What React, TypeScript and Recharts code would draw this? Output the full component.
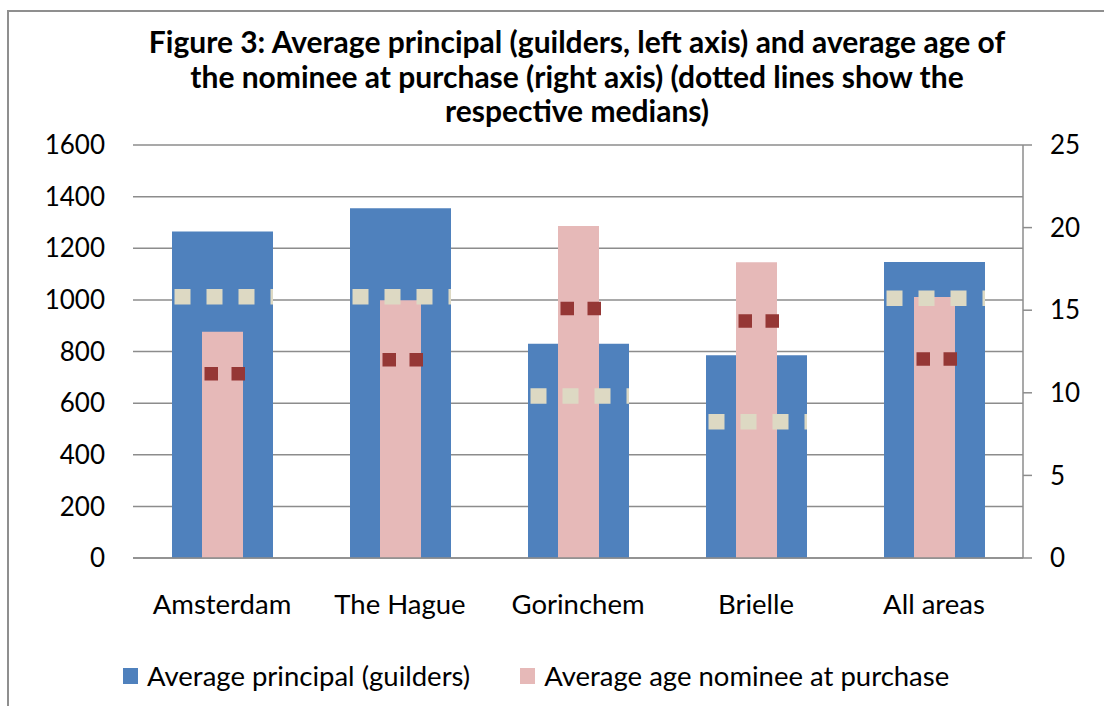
import { ComposedChart, Bar, XAxis, YAxis, CartesianGrid, Legend } from 'recharts';

const categories = ['Amsterdam', 'The Hague', 'Gorinchem', 'Brielle', 'All areas'];
const avgPrincipal = [1265, 1355, 830, 785, 1147];
const avgAge = [13.7, 15.6, 20.1, 17.9, 15.8];
const medianPrincipal = [1012, 1012, 628, 528, 1006];
const medianAge = [11.15, 12.0, 15.1, 14.35, 12.05];
const leftTicks = [0, 200, 400, 600, 800, 1000, 1200, 1400, 1600];
const rightTicks = [0, 5, 10, 15, 20, 25];
const legendOrder = ['avgPrincipal', 'avgAge'];

const data = categories.map((category, i) => ({
  category,
  avgPrincipal: avgPrincipal[i],
  avgAge: avgAge[i],
  medianPrincipal: medianPrincipal[i],
  medianAge: medianAge[i],
}));

const FONT = 'Lato, "Open Sans", sans-serif';
const AXIS_GRAY = '#8c8c8c';

// dotted median line drawn at the top of an otherwise invisible bar
const dashShape = (color: string, thickness: number, dash: string, inset: number, extra: number) =>
  (props: any) => {
    const { x, y, width } = props;
    if (x == null || y == null) return <g />;
    return (
      <line
        x1={x + inset}
        x2={x + width + extra}
        y1={y}
        y2={y}
        stroke={color}
        strokeWidth={thickness}
        strokeDasharray={dash}
      />
    );
  };

const renderLegend = (props: any) => {
  const items = (props.payload || [])
    .filter((p: any) => legendOrder.includes(p.dataKey))
    .sort((a: any, b: any) => legendOrder.indexOf(a.dataKey) - legendOrder.indexOf(b.dataKey));
  return (
    <div style={{ display: 'flex', alignItems: 'center', gap: 50, fontFamily: FONT, fontSize: 27.5, color: '#000' }}>
      {items.map((entry: any) => (
        <div key={entry.value} style={{ display: 'flex', alignItems: 'center' }}>
          <span style={{ display: 'inline-block', width: 15, height: 16, background: entry.color, marginRight: 9 }} />
          <span>{entry.value}</span>
        </div>
      ))}
    </div>
  );
};

export default function App() {
  return (
    <div style={{ position: 'absolute', left: 0, top: 0, width: 1104, height: 706, background: '#fff', overflow: 'hidden' }}>
      <div
        style={{
          position: 'absolute',
          left: 7,
          top: 10,
          width: 1120,
          height: 720,
          borderLeft: '2px solid #8f8f8f',
          borderTop: '2px solid #8f8f8f',
        }}
      />
      <div
        style={{
          position: 'absolute',
          left: 50,
          top: 24,
          width: 1054,
          textAlign: 'center',
          fontFamily: FONT,
          fontWeight: 700,
          fontSize: 30,
          lineHeight: '34.5px',
          color: '#000',
        }}
      >
        Figure 3: Average principal (guilders, left axis) and average age of
        <br />
        the nominee at purchase (right axis) (dotted lines show the
        <br />
        respective medians)
      </div>
      <div style={{ position: 'absolute', left: 0, top: 0 }}>
        <ComposedChart width={1104} height={706} data={data} margin={{ top: 145, right: 0, bottom: 108, left: 33 }}>
          <CartesianGrid yAxisId="left" xAxisId="main" vertical={false} stroke={AXIS_GRAY} strokeWidth={1.5} />
          <XAxis
            xAxisId="main"
            dataKey="category"
            height={40}
            axisLine={{ stroke: AXIS_GRAY, strokeWidth: 1.5 }}
            tickLine={false}
            tickSize={0}
            tickMargin={36}
            tick={{ fill: '#000', fontSize: 27.5, fontFamily: FONT }}
          />
          <XAxis xAxisId="pink" dataKey="category" hide />
          <XAxis xAxisId="medP" dataKey="category" hide />
          <XAxis xAxisId="medA" dataKey="category" hide />
          <YAxis
            yAxisId="left"
            width={100}
            domain={[0, 1600]}
            ticks={leftTicks}
            axisLine={false}
            tickLine={false}
            tickSize={0}
            tickMargin={28}
            tick={{ fill: '#000', fontSize: 26, fontFamily: FONT }}
          />
          <YAxis
            yAxisId="right"
            orientation="right"
            width={81}
            domain={[0, 25]}
            ticks={rightTicks}
            axisLine={{ stroke: AXIS_GRAY, strokeWidth: 1.5 }}
            tickLine={{ stroke: AXIS_GRAY, strokeWidth: 1.5 }}
            tickSize={9}
            tickMargin={18}
            tick={{ fill: '#000', fontSize: 26, fontFamily: FONT, textAnchor: 'start' }}
          />
          <Legend
            layout="horizontal"
            verticalAlign="middle"
            align="center"
            content={renderLegend}
            wrapperStyle={{ left: 123, top: 659, width: 970, height: 32 }}
          />
          <Bar
            xAxisId="main"
            yAxisId="left"
            dataKey="avgPrincipal"
            name="Average principal (guilders)"
            fill="#4F81BD"
            barSize={101}
            legendType="square"
            isAnimationActive={false}
          />
          <Bar
            xAxisId="pink"
            yAxisId="right"
            dataKey="avgAge"
            name="Average age nominee at purchase"
            fill="#E6B9B8"
            barSize={41}
            legendType="square"
            isAnimationActive={false}
          />
          <Bar
            xAxisId="medP"
            yAxisId="left"
            dataKey="medianPrincipal"
            name="Median principal"
            fill="#DDD9C3"
            barSize={101}
            legendType="none"
            shape={dashShape('#DDD9C3', 15.5, '16 16', 2.5, 0)}
            isAnimationActive={false}
          />
          <Bar
            xAxisId="medA"
            yAxisId="right"
            dataKey="medianAge"
            name="Median age"
            fill="#953735"
            barSize={41}
            legendType="none"
            shape={dashShape('#953735', 13.5, '13.5 13.5', 2.5, 3)}
            isAnimationActive={false}
          />
        </ComposedChart>
      </div>
    </div>
  );
}
